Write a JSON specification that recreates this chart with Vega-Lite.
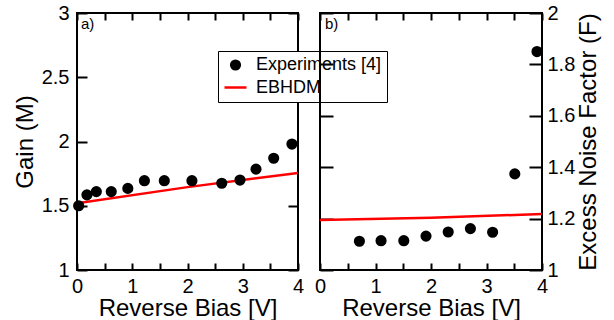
{
  "$schema": "https://vega.github.io/schema/vega-lite/v6.json",
  "padding": {"left": 12, "top": 2, "right": 5, "bottom": 2},
  "background": "white",
  "config": {
    "font": "Liberation Sans",
    "view": {"stroke": "black", "strokeWidth": 2},
    "axis": {
      "domain": false, "ticks": true,
      "tickColor": "black", "tickWidth": 2, "tickOpacity": 1,
      "labelColor": "black", "titleColor": "black",
      "labelFontSize": 20, "titleFontSize": 24, "titleFontWeight": "normal",
      "labelFont": "Liberation Sans", "titleFont": "Liberation Sans",
      "grid": false, "labelOverlap": false, "labelFlush": false, "labelBound": false
    },
    "legend": {
      "title": null, "orient": "none", "legendX": 141, "legendY": 38, "direction": "vertical",
      "strokeColor": "black", "fillColor": "white", "padding": 5,
      "labelFontSize": 18, "labelFont": "Liberation Sans", "labelColor": "black", "labelOffset": 8, "rowPadding": 0,
      "symbolStrokeWidth": 2.5, "symbolOpacity": 1
    }
  },
  "datasets": {
    "d": [
      {"panel": "a", "series": "Experiments [4]", "bias": 0.03, "value": 1.50},
      {"panel": "a", "series": "Experiments [4]", "bias": 0.18, "value": 1.585},
      {"panel": "a", "series": "Experiments [4]", "bias": 0.35, "value": 1.61},
      {"panel": "a", "series": "Experiments [4]", "bias": 0.62, "value": 1.61},
      {"panel": "a", "series": "Experiments [4]", "bias": 0.92, "value": 1.635},
      {"panel": "a", "series": "Experiments [4]", "bias": 1.22, "value": 1.695},
      {"panel": "a", "series": "Experiments [4]", "bias": 1.58, "value": 1.695},
      {"panel": "a", "series": "Experiments [4]", "bias": 2.08, "value": 1.695},
      {"panel": "a", "series": "Experiments [4]", "bias": 2.62, "value": 1.675},
      {"panel": "a", "series": "Experiments [4]", "bias": 2.95, "value": 1.70},
      {"panel": "a", "series": "Experiments [4]", "bias": 3.24, "value": 1.785},
      {"panel": "a", "series": "Experiments [4]", "bias": 3.56, "value": 1.87},
      {"panel": "a", "series": "Experiments [4]", "bias": 3.89, "value": 1.98},
      {"panel": "a", "series": "EBHDM", "bias": 0, "value": 1.52},
      {"panel": "a", "series": "EBHDM", "bias": 2, "value": 1.645},
      {"panel": "a", "series": "EBHDM", "bias": 4, "value": 1.755},
      {"panel": "b", "series": "Experiments [4]", "bias": 0.71, "value": 1.112},
      {"panel": "b", "series": "Experiments [4]", "bias": 1.10, "value": 1.114},
      {"panel": "b", "series": "Experiments [4]", "bias": 1.51, "value": 1.114},
      {"panel": "b", "series": "Experiments [4]", "bias": 1.91, "value": 1.132},
      {"panel": "b", "series": "Experiments [4]", "bias": 2.31, "value": 1.148},
      {"panel": "b", "series": "Experiments [4]", "bias": 2.71, "value": 1.161},
      {"panel": "b", "series": "Experiments [4]", "bias": 3.11, "value": 1.147},
      {"panel": "b", "series": "Experiments [4]", "bias": 3.51, "value": 1.374},
      {"panel": "b", "series": "Experiments [4]", "bias": 3.91, "value": 1.85},
      {"panel": "b", "series": "EBHDM", "bias": 0, "value": 1.195},
      {"panel": "b", "series": "EBHDM", "bias": 2, "value": 1.203},
      {"panel": "b", "series": "EBHDM", "bias": 4, "value": 1.218}
    ]
  },
  "spacing": 22,
  "bounds": "flush",
  "resolve": {
    "legend": {"color": "independent", "stroke": "independent", "shape": "independent", "size": "independent"},
    "scale": {"color": "independent", "stroke": "independent", "shape": "independent", "size": "independent"}
  },
  "hconcat": [
    {
      "width": 221,
      "height": 257,
      "data": {"name": "d"},
      "transform": [{"filter": "datum.panel === 'a'"}],
      "layer": [
        {
          "transform": [{"filter": "datum.series === 'EBHDM'"}],
          "mark": {"type": "line", "strokeWidth": 2.5, "color": "red", "clip": true},
          "encoding": {
            "x": {"field": "bias", "type": "quantitative", "scale": {"domain": [0, 4], "nice": false, "zero": false},
                  "axis": {"orient": "top", "values": [0, 0.5, 1, 1.5, 2, 2.5, 3, 3.5, 4], "labels": false, "title": null, "offset": -7, "ticks": true, "tickSize": 7, "tickColor": "black", "tickWidth": 2}},
            "y": {"field": "value", "type": "quantitative", "scale": {"domain": [1, 3], "nice": false, "zero": false},
                  "axis": {"orient": "right", "values": [1, 1.5, 2, 2.5, 3], "labels": false, "title": null, "offset": -10, "ticks": true, "tickSize": 10, "tickColor": "black", "tickWidth": 2}}
          }
        },
        {
          "transform": [{"filter": "datum.series === 'Experiments [4]'"}],
          "mark": {"type": "point", "filled": true, "strokeWidth": 2.5, "opacity": 1},
          "encoding": {
            "x": {"field": "bias", "type": "quantitative", "scale": {"domain": [0, 4], "nice": false, "zero": false},
                  "axis": {"orient": "bottom", "values": [0, 0.5, 1, 1.5, 2, 2.5, 3, 3.5, 4], "labelExpr": "datum.value % 1 === 0 ? datum.label : ''", "format": "~g", "title": "Reverse Bias [V]", "offset": -7, "ticks": true, "tickSize": 7, "tickColor": "black", "tickWidth": 2, "labelPadding": 6, "titlePadding": 0}},
            "y": {"field": "value", "type": "quantitative", "scale": {"domain": [1, 3], "nice": false, "zero": false},
                  "axis": {"orient": "left", "values": [1, 1.5, 2, 2.5, 3], "format": "~g", "title": "Gain (M)", "offset": -10, "ticks": true, "tickSize": 10, "tickColor": "black", "tickWidth": 2, "labelPadding": 8, "titlePadding": 4}},
            "color": {"field": "series", "type": "nominal",
              "scale": {"domain": ["Experiments [4]", "EBHDM"], "range": ["black", "red"]},
              "legend": {"title": null}},
            "stroke": {"field": "series", "type": "nominal",
              "scale": {"domain": ["Experiments [4]", "EBHDM"], "range": ["black", "red"]},
              "legend": {"title": null}},
            "shape": {"field": "series", "type": "nominal",
              "scale": {"domain": ["Experiments [4]", "EBHDM"], "range": ["circle", "stroke"]},
              "legend": {"title": null}},
            "size": {"field": "series", "type": "nominal",
              "scale": {"domain": ["Experiments [4]", "EBHDM"], "range": [75, 484]},
              "legend": {"title": null}}
          }
        },
        {
          "data": {"values": [{"label": "a)"}]},
          "mark": {"type": "text", "align": "left", "baseline": "top", "dx": 4, "dy": 4, "fontSize": 15, "font": "Liberation Sans", "color": "black"},
          "encoding": {
            "x": {"datum": 0, "type": "quantitative", "axis": null},
            "y": {"datum": 3, "type": "quantitative", "axis": null},
            "text": {"field": "label"}
          }
        }
      ],
      "resolve": {"axis": {"x": "independent", "y": "independent"}}
    },
    {
      "width": 222,
      "height": 257,
      "data": {"name": "d"},
      "transform": [{"filter": "datum.panel === 'b'"}],
      "layer": [
        {
          "transform": [{"filter": "datum.series === 'EBHDM'"}],
          "mark": {"type": "line", "strokeWidth": 2.5, "color": "red", "clip": true},
          "encoding": {
            "x": {"field": "bias", "type": "quantitative", "scale": {"domain": [0, 4], "nice": false, "zero": false},
                  "axis": {"orient": "top", "values": [0, 0.5, 1, 1.5, 2, 2.5, 3, 3.5, 4], "labels": false, "title": null, "offset": -7, "ticks": true, "tickSize": 7, "tickColor": "black", "tickWidth": 2}},
            "y": {"field": "value", "type": "quantitative", "scale": {"domain": [1, 2], "nice": false, "zero": false},
                  "axis": {"orient": "left", "values": [1, 1.2, 1.4, 1.6, 1.8, 2], "labels": false, "title": null, "offset": -13, "ticks": true, "tickSize": 13, "tickColor": "black", "tickWidth": 2}}
          }
        },
        {
          "transform": [{"filter": "datum.series === 'Experiments [4]'"}],
          "mark": {"type": "point", "filled": true, "size": 75, "strokeWidth": 2.5, "opacity": 1, "fill": "black", "stroke": "black"},
          "encoding": {
            "x": {"field": "bias", "type": "quantitative", "scale": {"domain": [0, 4], "nice": false, "zero": false},
                  "axis": {"orient": "bottom", "values": [0, 0.5, 1, 1.5, 2, 2.5, 3, 3.5, 4], "labelExpr": "datum.value % 1 === 0 ? datum.label : ''", "format": "~g", "title": "Reverse Bias [V]", "offset": -7, "ticks": true, "tickSize": 7, "tickColor": "black", "tickWidth": 2, "labelPadding": 6, "titlePadding": 0}},
            "y": {"field": "value", "type": "quantitative", "scale": {"domain": [1, 2], "nice": false, "zero": false},
                  "axis": {"orient": "right", "values": [1, 1.2, 1.4, 1.6, 1.8, 2], "format": "~g", "title": "Excess Noise Factor (F)", "titleAngle": 270, "titleBaseline": "top", "offset": -13, "ticks": true, "tickSize": 13, "tickColor": "black", "tickWidth": 2, "labelPadding": 5, "titlePadding": 2}}
          }
        },
        {
          "data": {"values": [{"label": "b)"}]},
          "mark": {"type": "text", "align": "left", "baseline": "top", "dx": 5, "dy": 4, "fontSize": 15, "font": "Liberation Sans", "color": "black"},
          "encoding": {
            "x": {"datum": 0, "type": "quantitative", "axis": null},
            "y": {"datum": 2, "type": "quantitative", "axis": null},
            "text": {"field": "label"}
          }
        }
      ],
      "resolve": {"axis": {"x": "independent", "y": "independent"}}
    }
  ]
}
